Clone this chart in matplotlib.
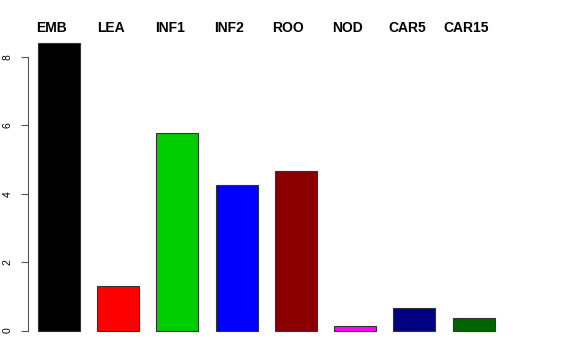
import numpy as np
import matplotlib
matplotlib.use('Agg')
import matplotlib.pyplot as plt

labels = ['EMB', 'LEA', 'INF1', 'INF2', 'ROO', 'NOD', 'CAR5', 'CAR15']
values = [8.41, 1.30, 5.78, 4.26, 4.66, 0.13, 0.67, 0.38]
colors = ['#000000', '#FF0000', '#00CD00', '#0000FF', '#8B0000', '#FF00FF', '#000080', '#006400']
yticks = [0, 2, 4, 6, 8]

plt.rcParams['font.family'] = ['Liberation Sans', 'DejaVu Sans']

fig = plt.figure(figsize=(5.76, 3.6), dpi=100)
ax = fig.add_axes([28 / 576, 18 / 360, (519 - 28) / 576, (342 - 31.3) / 360])

# R-style barplot positions: width 1, space ~0.41
x = 0.91 + 1.41 * np.arange(len(values))
ax.bar(x, values, width=1.0, color=colors, edgecolor='#333333', linewidth=0.8)
ax.set_xlim(0.172, 11.86)
ax.set_ylim(-0.336, 8.75)

for xi, lab in zip(x, labels):
    ax.text(xi - 0.18, 8.85, lab, ha='center', va='center', fontsize=10,
            fontweight='bold', clip_on=False)

for s in ['top', 'right', 'bottom']:
    ax.spines[s].set_visible(False)
ax.spines['left'].set_bounds(0, 8)
ax.spines['left'].set_color('#555555')
ax.spines['left'].set_linewidth(0.8)
ax.set_xticks([])
ax.set_yticks(yticks)
ax.set_yticklabels([str(t) for t in yticks], rotation=90, va='center', fontsize=7.5)
ax.tick_params(axis='y', length=5, width=0.8, color='#555555', pad=6)

fig.savefig('out.png', dpi=100)
